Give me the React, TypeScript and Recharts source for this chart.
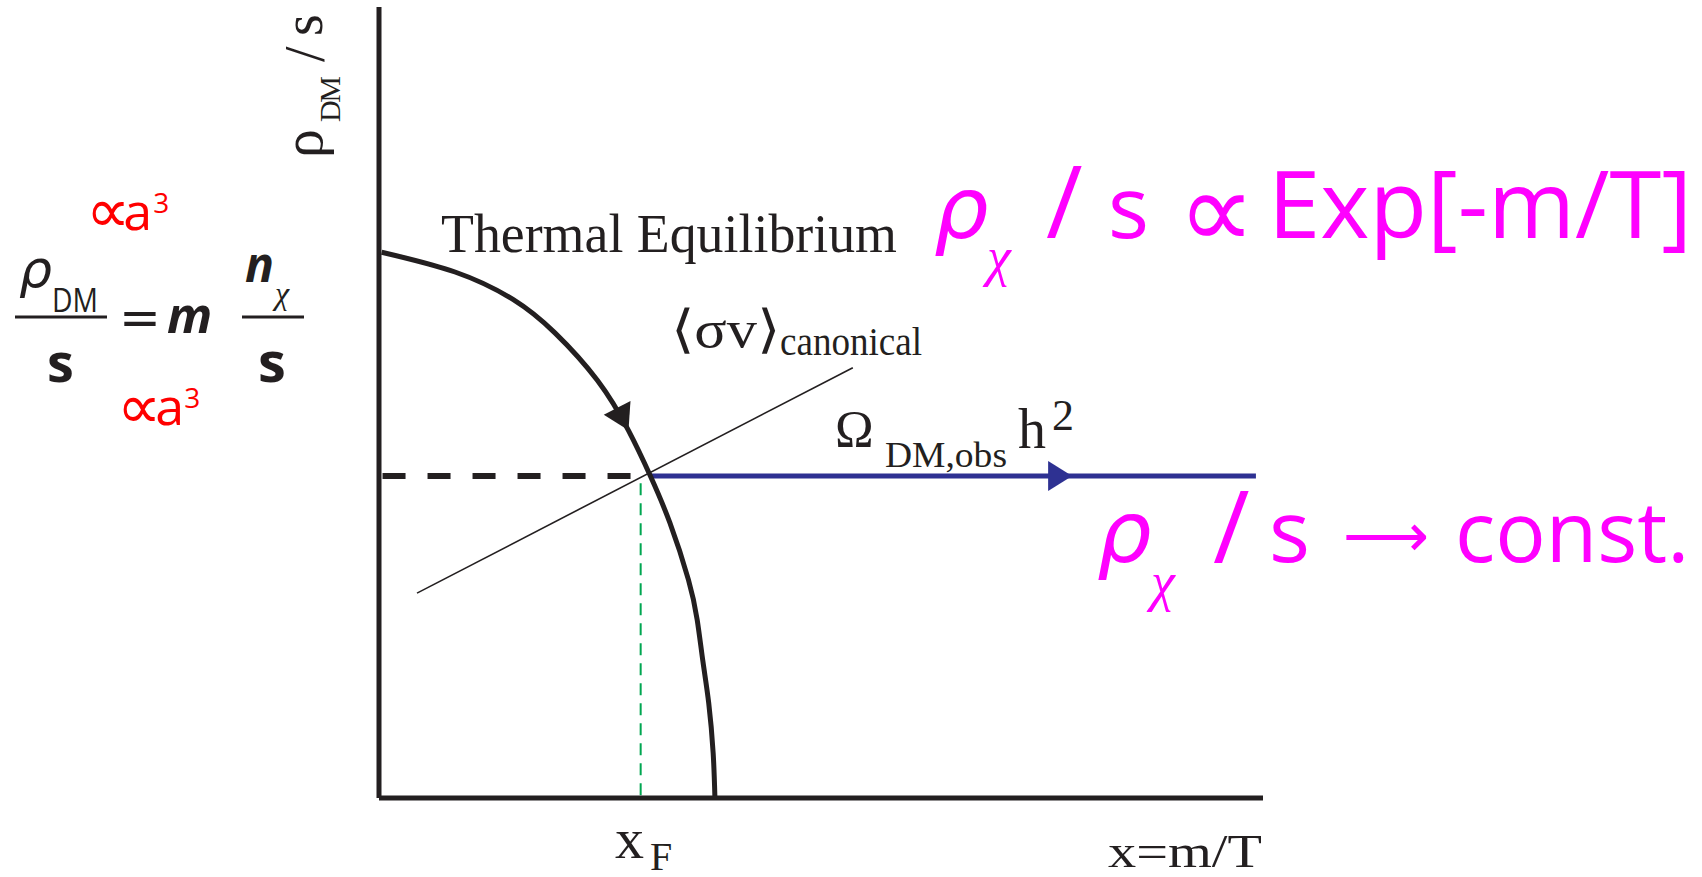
import { ComposedChart, Line, Scatter, XAxis, YAxis, Customized } from "recharts";

// freeze-out sketch, values in arbitrary plot units (0..100 on both axes)
const curveX = [0.3, 8.6, 15.2, 19.9, 24.7, 28.2, 30.7, 32.9, 35.0, 36.0, 36.65, 37.3, 37.8, 38.0];
const curveY = [69.0, 66.5, 63.0, 58.8, 52.8, 46.5, 40.7, 34.8, 27.6, 22.5, 17.2, 12.0, 5.7, 0];

const canonicalX = [4.3, 53.6];
const canonicalY = [25.9, 54.4];

const relicLevel = 40.7;
const equilibriumX = [0.4, 30.7];
const relicX = [30.7, 99.2];

const xF = 29.6;
const xFLineY = [39.8, 0];

const curveArrow = [{ x: 27.4, y: 48.3 }];
const relicArrow = [{ x: 76.6, y: 40.7 }];

const INK = "#231f20";
const BLUE = "#2e3192";
const GREEN = "#00a651";
const MAGENTA = "#ff00ff";
const RED = "#ff0000";

const zip = (xs: number[], ys: number[]) => xs.map((x, i) => ({ x, y: ys[i] }));

const curveData = zip(curveX, curveY);
const canonicalData = zip(canonicalX, canonicalY);
const dashedData = zip(equilibriumX, equilibriumX.map(() => relicLevel));
const relicData = zip(relicX, relicX.map(() => relicLevel));
const xFData = zip(xFLineY.map(() => xF), xFLineY);

const Arrowhead = ({ cx, cy, angle, back, fill }: any) => {
  const a = (angle * Math.PI) / 180;
  const pts = [
    [16, 0],
    [-back, -15],
    [-back, 15],
  ]
    .map(([px, py]) => `${cx + px * Math.cos(a) - py * Math.sin(a)},${cy + px * Math.sin(a) + py * Math.cos(a)}`)
    .join(" ");
  return <polygon points={pts} fill={fill} />;
};

const serif = "'Liberation Serif', 'Times New Roman', serif";
const sans = "'Open Sans', 'DejaVu Sans', sans-serif";
const dv = "'DejaVu Sans', sans-serif";

const Annotations = () => (
  <g>
    {/* y label */}
    <g transform="translate(322,158) rotate(-90)" fill={INK} fontFamily={serif}>
      <text x={0} y={0} fontSize={58}>ρ</text>
      <text x={36} y={18} fontSize={30} textLength={46}>DM</text>
      <text x={96} y={2} fontSize={56}>/</text>
      <text x={122} y={0} fontSize={56}>s</text>
    </g>

    {/* left formula */}
    <g fill={INK}>
      <text x={19} y={287} fontSize={52} fontFamily={dv} fontStyle="italic">ρ</text>
      <text x={52} y={312} fontSize={33} fontFamily={sans} textLength={46} lengthAdjust="spacingAndGlyphs">DM</text>
      <line x1={15} x2={107} y1={317} y2={317} stroke={INK} strokeWidth={3} />
      <text x={47} y={382} fontSize={54} fontWeight={700} fontFamily={sans}>s</text>
      <text x={119} y={335} fontSize={50} fontFamily={dv}>=</text>
      <text x={167} y={333} fontSize={50} fontWeight={700} fontStyle="italic" fontFamily={sans}>m</text>
      <text x={245} y={282} fontSize={48} fontWeight={700} fontStyle="italic" fontFamily={sans}>n</text>
      <text x={275} y={304} fontSize={32} fontStyle="italic" fontFamily={serif}>χ</text>
      <line x1={242} x2={304} y1={317} y2={317} stroke={INK} strokeWidth={3} />
      <text x={258} y={382} fontSize={56} fontWeight={700} fontFamily={sans}>s</text>
    </g>
    <g fill={RED} fontFamily={sans}>
      <text x={86} y={232}>
        <tspan fontSize={62} fontFamily={dv}>∝</tspan>
        <tspan fontSize={52} dx={-7} dy={-2}>a</tspan>
        <tspan fontSize={28} dx={1} dy={-17}>3</tspan>
      </text>
      <text x={117} y={428}>
        <tspan fontSize={62} fontFamily={dv}>∝</tspan>
        <tspan fontSize={52} dx={-6} dy={-3}>a</tspan>
        <tspan fontSize={28} dx={0} dy={-17}>3</tspan>
      </text>
    </g>

    {/* curve labels */}
    <g fill={INK} fontFamily={serif}>
      <text x={441} y={252} fontSize={55} textLength={456} lengthAdjust="spacingAndGlyphs">Thermal Equilibrium</text>
      <text x={671} y={347} fontSize={52} textLength={109} lengthAdjust="spacingAndGlyphs">⟨σv⟩</text>
      <text x={780} y={355} fontSize={40} textLength={142} lengthAdjust="spacingAndGlyphs">canonical</text>
      <text x={835} y={447} fontSize={52}>Ω</text>
      <text x={885} y={467} fontSize={35} textLength={122} lengthAdjust="spacingAndGlyphs">DM,obs</text>
      <text x={1018} y={448} fontSize={56}>h</text>
      <text x={1052} y={430} fontSize={44}>2</text>
      <text x={615} y={858} fontSize={58}>x</text>
      <text x={650} y={870} fontSize={40}>F</text>
      <text x={1108} y={867} fontSize={46} textLength={154} lengthAdjust="spacingAndGlyphs">x=m/T</text>
    </g>

    {/* magenta statements */}
    <g fill={MAGENTA} fontFamily={sans}>
      <text x={934} y={238} fontSize={86} fontFamily={dv} fontStyle="italic">ρ</text>
      <text x={987} y={275} fontSize={54} fontFamily={serif} fontStyle="italic">χ</text>
      <text x={1046} y={238} fontSize={100}>/</text>
      <text x={1108} y={238} fontSize={86}>s</text>
      <text x={1178} y={248} fontSize={108} fontFamily={dv}>∝</text>
      <text x={1268} y={238} fontSize={94}>Exp[-m/T]</text>

      <text x={1097} y={562} fontSize={86} fontFamily={dv} fontStyle="italic">ρ</text>
      <text x={1151} y={600} fontSize={54} fontFamily={serif} fontStyle="italic">χ</text>
      <text x={1213} y={563} fontSize={100}>/</text>
      <text x={1269} y={562} fontSize={86}>s</text>
      <text x={1343} y={556} fontSize={60} fontFamily={dv}>⟶</text>
      <text x={1455} y={562} fontSize={84}>const.</text>
    </g>
  </g>
);

export default function App() {
  return (
    <div style={{ position: "absolute", left: 0, top: 0, background: "#fff" }}>
      <ComposedChart
        width={1702}
        height={877}
        margin={{ top: 7, right: 439, bottom: 49, left: 349 }}
      >
        <XAxis
          type="number"
          dataKey="x"
          domain={[0, 100]}
          allowDataOverflow
          tick={false}
          tickLine={false}
          height={30}
          axisLine={{ stroke: INK, strokeWidth: 5 }}
        />
        <YAxis
          type="number"
          dataKey="y"
          domain={[0, 100]}
          allowDataOverflow
          tick={false}
          tickLine={false}
          width={30}
          axisLine={{ stroke: INK, strokeWidth: 5 }}
        />
        <Line data={xFData} dataKey="y" type="linear" stroke={GREEN} strokeWidth={2} strokeDasharray="12 8" dot={false} activeDot={false} isAnimationActive={false} />
        <Line data={dashedData} dataKey="y" type="linear" stroke={INK} strokeWidth={6} strokeDasharray="23 22" dot={false} activeDot={false} isAnimationActive={false} />
        <Line data={relicData} dataKey="y" type="linear" stroke={BLUE} strokeWidth={5} dot={false} activeDot={false} isAnimationActive={false} />
        <Line data={canonicalData} dataKey="y" type="linear" stroke={INK} strokeWidth={1.6} dot={false} activeDot={false} isAnimationActive={false} />
        <Line data={curveData} dataKey="y" type="natural" stroke={INK} strokeWidth={5} dot={false} activeDot={false} isAnimationActive={false} />
        <Scatter
          data={curveArrow}
          dataKey="y"
          isAnimationActive={false}
          shape={(p: any) => <Arrowhead cx={p.cx} cy={p.cy} angle={63} back={9} fill={INK} />}
        />
        <Scatter
          data={relicArrow}
          dataKey="y"
          isAnimationActive={false}
          shape={(p: any) => <Arrowhead cx={p.cx} cy={p.cy} angle={0} back={8} fill={BLUE} />}
        />
        <Customized component={<Annotations />} />
      </ComposedChart>
    </div>
  );
}
